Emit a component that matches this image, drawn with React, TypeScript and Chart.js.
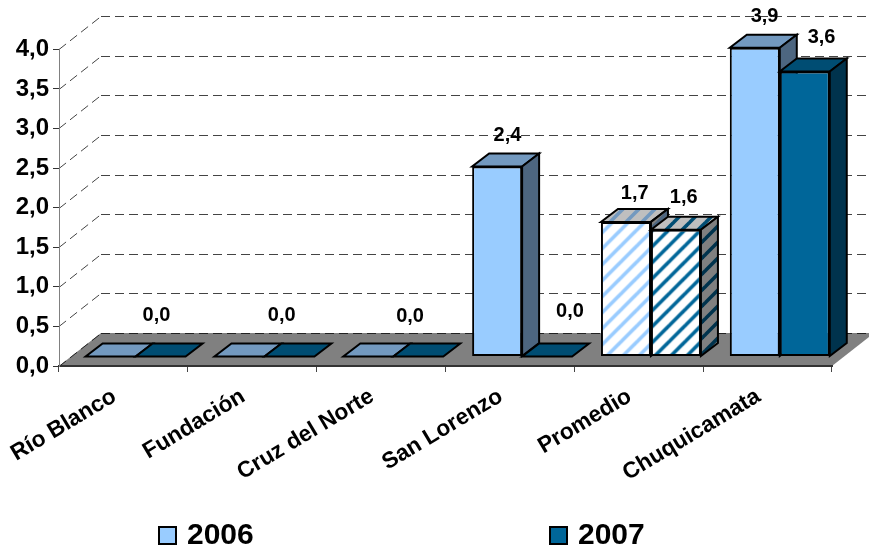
import React, { useEffect, useRef } from "react";
import { Chart, registerables } from "chart.js";

Chart.register(...registerables);

const categories = ["Río Blanco", "Fundación", "Cruz del Norte", "San Lorenzo", "Promedio", "Chuquicamata"];
const seriesNames = ["2006", "2007"];
const values2006 = [0, 0, 0, 2.4, 1.7, 3.9];
const values2007 = [0, 0, 0, 0, 1.6, 3.6];
const HATCHED = 4;

const FONT = '"Liberation Sans", Arial, sans-serif';
const comma = (v: number) => v.toFixed(1).replace(".", ",");

// Label nudges relative to the mark; null hides the label
const nudges2006: ([number, number] | null)[] = [null, null, null, [22.6, -40.5], [21, -38], [22, -41]];
const nudges2007: ([number, number] | null)[] = [[8, -51], [4.5, -51], [4, -50], [35, -55], [20, -42], [29, -43.5]];

const WALL = { dx: 42, dy: -33 };
const FRONT = { dx: 12.2, dy: -9.5 };
const DEPTH = { dx: 17, dy: -13 };

function hatch(bg: string, fg: string): CanvasPattern {
  const s = 16;
  const c = document.createElement("canvas");
  c.width = s;
  c.height = s;
  const x = c.getContext("2d")!;
  x.fillStyle = bg;
  x.fillRect(0, 0, s, s);
  x.strokeStyle = fg;
  x.lineWidth = 3.6;
  for (const o of [-s, 0, s]) {
    x.beginPath();
    x.moveTo(o - 2, s + 2);
    x.lineTo(o + s + 2, -2);
    x.stroke();
  }
  return x.createPattern(c, "repeat")!;
}

function poly(ctx: CanvasRenderingContext2D, pts: number[][], fill: string | CanvasPattern) {
  ctx.beginPath();
  pts.forEach((p, i) => (i ? ctx.lineTo(p[0], p[1]) : ctx.moveTo(p[0], p[1])));
  ctx.closePath();
  ctx.fillStyle = fill;
  ctx.fill();
  ctx.lineWidth = 2;
  ctx.strokeStyle = "#000";
  ctx.lineJoin = "miter";
  ctx.stroke();
}

const threeD = {
  id: "threeD",
  beforeDraw(chart: any) {
    const { ctx, chartArea: a, scales } = chart;
    const y = scales.y;
    ctx.save();
    // floor
    ctx.beginPath();
    ctx.moveTo(a.left, a.bottom);
    ctx.lineTo(a.right, a.bottom);
    ctx.lineTo(a.right + WALL.dx, a.bottom + WALL.dy);
    ctx.lineTo(a.left + WALL.dx, a.bottom + WALL.dy);
    ctx.closePath();
    ctx.fillStyle = "#808080";
    ctx.fill();
    // walls
    ctx.setLineDash([9, 5]);
    ctx.lineWidth = 1;
    y.ticks.forEach((t: any) => {
      const py = Math.round(y.getPixelForValue(t.value)) + 0.5;
      ctx.strokeStyle = t.value === 0 ? "#222" : "#444";
      ctx.beginPath();
      ctx.moveTo(a.left, py);
      ctx.lineTo(a.left + WALL.dx, py + WALL.dy);
      ctx.stroke();
      ctx.beginPath();
      ctx.moveTo(a.left + WALL.dx, py + WALL.dy);
      ctx.lineTo(a.right + WALL.dx, py + WALL.dy);
      ctx.stroke();
    });
    ctx.setLineDash([]);
    ctx.strokeStyle = "#333";
    ctx.lineWidth = 2;
    ctx.beginPath();
    ctx.moveTo(a.left, a.bottom);
    ctx.lineTo(a.right, a.bottom);
    ctx.stroke();
    ctx.restore();
  },
  beforeDatasetDraw() {
    return false; // bars are painted left to right below, so that faces overlap properly
  },
  afterDatasetsDraw(chart: any) {
    const ctx = chart.ctx;
    chart.data.datasets.forEach((ds: any, di: number) => {
      chart.getDatasetMeta(di).data.forEach((bar: any, i: number) => {
        const { x, y, width, base } = bar.getProps(["x", "y", "width", "base"], true);
        const L = x - width / 2 + FRONT.dx;
        const R = x + width / 2 + FRONT.dx;
        const T = y + FRONT.dy;
        const B = base + FRONT.dy;
        poly(ctx, [[L, T], [R, T], [R + DEPTH.dx, T + DEPTH.dy], [L + DEPTH.dx, T + DEPTH.dy]], ds.topColors[i]);
        if (B - T > 0.5) {
          poly(ctx, [[R, T], [R + DEPTH.dx, T + DEPTH.dy], [R + DEPTH.dx, B + DEPTH.dy], [R, B]], ds.sideColors[i]);
        }
        ctx.save();
        ctx.translate(FRONT.dx, FRONT.dy);
        bar.draw(ctx);
        ctx.restore();
      });
    });
    // value labels
    ctx.save();
    ctx.font = `bold 20px ${FONT}`;
    ctx.fillStyle = "#000";
    ctx.textAlign = "center";
    ctx.textBaseline = "middle";
    chart.data.datasets.forEach((ds: any, di: number) => {
      chart.getDatasetMeta(di).data.forEach((bar: any, i: number) => {
        const n = ds.labelNudges[i];
        if (!n) return;
        const { x, y } = bar.getProps(["x", "y"], true);
        ctx.fillText(comma(ds.data[i]), x + n[0], y + n[1]);
      });
    });
    ctx.restore();
    // legend
    ctx.save();
    ctx.textAlign = "left";
    ctx.textBaseline = "middle";
    ctx.font = `bold 30px ${FONT}`;
    const legendX = [159, 550];
    chart.data.datasets.forEach((ds: any, di: number) => {
      ctx.fillStyle = ds.swatch;
      ctx.fillRect(legendX[di], 527, 17, 17);
      ctx.strokeStyle = "#000";
      ctx.lineWidth = 2;
      ctx.strokeRect(legendX[di], 527, 17, 17);
      ctx.fillStyle = "#000";
      ctx.fillText(ds.label, legendX[di] + 28, 536);
    });
    ctx.restore();
  },
};

export default function App() {
  const ref = useRef<HTMLCanvasElement>(null);
  useEffect(() => {
    const fills = (base: string, stripe: string) => categories.map((_, i) => (i === HATCHED ? hatch("#ffffff", stripe) : base));
    const tops = (base: string) => categories.map((_, i) => (i === HATCHED ? hatch("#bfbfbf", base) : base));
    const sides = (base: string) => categories.map((_, i) => (i === HATCHED ? hatch("#808080", base) : base));
    const chart = new Chart(ref.current!, {
      type: "bar",
      data: {
        labels: categories,
        datasets: [
          {
            label: seriesNames[0],
            data: values2006,
            backgroundColor: fills("#99CCFF", "#99CCFF"),
            borderColor: "#000",
            borderWidth: 2,
            borderSkipped: false,
            swatch: "#99CCFF",
            topColors: tops("#7399BF"),
            sideColors: sides("#4D6680"),
            labelNudges: nudges2006,
          },
          {
            label: seriesNames[1],
            data: values2007,
            backgroundColor: fills("#006699", "#006699"),
            borderColor: "#000",
            borderWidth: 2,
            borderSkipped: false,
            swatch: "#006699",
            topColors: tops("#004D73"),
            sideColors: sides("#00334D"),
            labelNudges: nudges2007,
          },
        ] as any,
      },
      options: {
        animation: false,
        responsive: false,
        devicePixelRatio: 1,
        layout: { padding: { left: 0, right: 37, top: 49.3, bottom: 0 } },
        datasets: { bar: { categoryPercentage: 0.776, barPercentage: 1 } },
        plugins: { legend: { display: false }, tooltip: { enabled: false }, title: { display: false } },
        scales: {
          x: {
            afterFit: (s: any) => { s.height = 190; },
            border: { color: "#333", width: 2 },
            grid: { drawOnChartArea: false, drawTicks: true, tickLength: 6, color: "#444", offset: true },
            ticks: {
              color: "#000",
              font: { family: FONT, size: 22.67, weight: "bold" },
              minRotation: 31,
              maxRotation: 31,
              autoSkip: false,
              padding: 11,
              labelOffset: -9,
            },
          },
          y: {
            min: 0,
            max: 4,
            afterFit: (s: any) => { s.width = 59; },
            border: { color: "#808080", width: 1 },
            grid: { drawOnChartArea: false, drawTicks: true, tickLength: 6, color: "#333" },
            ticks: {
              stepSize: 0.5,
              color: "#000",
              padding: 4,
              font: { family: FONT, size: 24, weight: "bold" },
              callback: (v: any) => comma(Number(v)),
            },
          },
        },
      } as any,
      plugins: [threeD] as any,
    });
    return () => chart.destroy();
  }, []);
  return (
    <canvas
      ref={ref}
      width={869}
      height={556}
      style={{ position: "fixed", left: 0, top: 0, display: "block", background: "#fff" }}
    />
  );
}
